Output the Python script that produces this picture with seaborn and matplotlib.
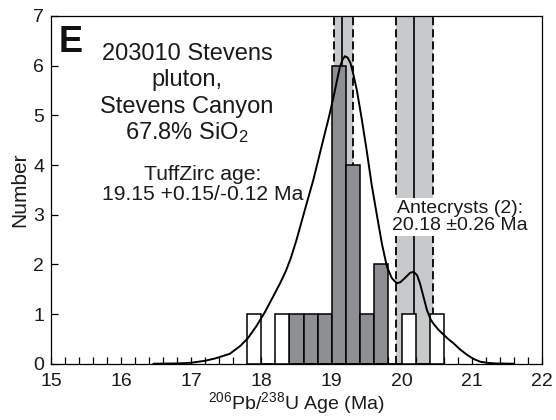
import numpy as np
import matplotlib
matplotlib.use("Agg")
import matplotlib.pyplot as plt
from matplotlib.ticker import MultipleLocator
import seaborn as sns

# Histogram of single-zircon ages, 0.2 Ma bins (bin centres and counts)
main_ages = [18.5, 18.7, 18.9, 19.1, 19.3, 19.5, 19.7]
main_counts = [1, 1, 1, 6, 4, 1, 2]
open_ages = [17.9, 18.3, 20.1, 20.5]
open_counts = [1, 1, 1, 1]
bin_edges = [17.8, 18.0, 18.2, 18.4, 18.6, 18.8, 19.0, 19.2, 19.4, 19.6, 19.8, 20.0, 20.2, 20.4, 20.6]

# Probability density curve (in counts)
pdf_age = [16.46, 16.80, 17.00, 17.20, 17.35, 17.55, 17.70, 17.81, 17.93,
           18.05, 18.17, 18.27, 18.35, 18.42, 18.50, 18.62, 18.74, 18.81, 18.88,
           18.96, 19.03, 19.08, 19.12, 19.16, 19.19, 19.23, 19.27, 19.31, 19.36,
           19.43, 19.50, 19.57, 19.65, 19.72, 19.79, 19.86, 19.93, 19.98, 20.05,
           20.12, 20.17, 20.22, 20.26, 20.31, 20.36, 20.41, 20.45, 20.52, 20.60,
           20.67, 20.74, 20.83, 20.93, 21.02, 21.12, 21.24, 21.36, 21.59]
pdf_num = [0.00, 0.005, 0.02, 0.06, 0.11, 0.20, 0.36, 0.52, 0.76,
           1.04, 1.36, 1.63, 1.87, 2.13, 2.49, 3.10, 3.70, 4.10, 4.50,
           4.95, 5.38, 5.72, 5.98, 6.13, 6.19, 6.16, 6.05, 5.83, 5.51,
           4.93, 4.30, 3.62, 2.96, 2.40, 1.95, 1.72, 1.62, 1.64, 1.73,
           1.83, 1.85, 1.78, 1.62, 1.35, 1.08, 0.90, 0.81, 0.69, 0.58,
           0.49, 0.41, 0.29, 0.18, 0.10, 0.04, 0.015, 0.005, 0.00]

# Weighted mean ages with uncertainties
tuff_age, tuff_plus, tuff_minus = 19.15, 0.15, 0.12
ante_age, ante_err, ante_n = 20.18, 0.26, 2

sns.set_theme(style="ticks")
plt.rcParams["font.family"] = ["Liberation Sans", "DejaVu Sans"]
plt.rcParams["mathtext.fontset"] = "custom"
plt.rcParams["mathtext.rm"] = "Liberation Sans"
plt.rcParams["mathtext.it"] = "Liberation Sans:italic"
plt.rcParams["mathtext.bf"] = "Liberation Sans:bold"

fig = plt.figure(figsize=(5.56, 4.20), dpi=100)
ax = fig.add_axes([0.0917, 0.134, 0.8831, 0.828])

band_color = "#c8c9ca"
bar_gray = "#8e8f93"
dash = (0, (4.5, 2.2))

# Age bands with dashed error limits and solid mean
for mean, lo, hi in [(tuff_age, tuff_age - tuff_minus, tuff_age + tuff_plus),
                     (ante_age, ante_age - ante_err, ante_age + ante_err)]:
    ax.axvspan(lo, hi, color=band_color, lw=0, zorder=0.5)
    ax.axvline(lo, color="black", lw=1.3, ls=dash, zorder=1)
    ax.axvline(hi, color="black", lw=1.3, ls=dash, zorder=1)
    ax.axvline(mean, color="black", lw=1.2, zorder=1)

sns.histplot(x=main_ages, weights=main_counts, bins=bin_edges, ax=ax,
             color=bar_gray, edgecolor="black", linewidth=1.1, alpha=1, zorder=2)
sns.histplot(x=open_ages, weights=open_counts, bins=bin_edges, ax=ax,
             color="white", edgecolor="black", linewidth=1.1, alpha=1, zorder=2)

sns.lineplot(x=pdf_age, y=pdf_num, ax=ax, color="black", lw=1.4,
             estimator=None, sort=False, zorder=4)

ax.set_xlim(15, 22)
ax.set_ylim(0, 7)
ax.xaxis.set_major_locator(MultipleLocator(1))
ax.xaxis.set_minor_locator(MultipleLocator(0.2))
ax.yaxis.set_major_locator(MultipleLocator(1))
ax.tick_params(axis="x", which="both", direction="in", length=5, width=0.9,
               labelsize=14, pad=7, color="black", labelcolor="#1a1a1a")
ax.tick_params(axis="y", which="major", direction="in", length=5, width=0.9,
               labelsize=14, pad=5, color="black", labelcolor="#1a1a1a")
for s in ax.spines.values():
    s.set_visible(True)
    s.set_linewidth(0.9)
    s.set_color("black")

ax.set_xlabel("$^{206}$Pb/$^{238}$U Age (Ma)", fontsize=14, labelpad=0, color="#1a1a1a")
ax.set_ylabel("Number", fontsize=15, labelpad=3, color="#1a1a1a")

# Annotations
ax.text(15.11, 6.281, "E", fontsize=26, fontweight="bold", ha="left",
        va="baseline", color="#111111", zorder=5)
title_lines = ["203010 Stevens", "pluton,", "Stevens Canyon", "67.8% SiO$_2$"]
for i, line in enumerate(title_lines):
    ax.text(16.94, 6.114 - i * 0.531, line, fontsize=17, ha="center",
            va="baseline", color="#1a1a1a", zorder=5)
for i, line in enumerate(["TuffZirc age:",
                          f"{tuff_age:.2f} +{tuff_plus:.2f}/-{tuff_minus:.2f} Ma"]):
    ax.text(17.168, 3.698 - i * 0.393, line, fontsize=15.2, ha="center",
            va="baseline", color="#1a1a1a", zorder=5)
ax.text(20.835, 2.692, f"Antecrysts ({ante_n}):\n{ante_age:.2f} \u00b1{ante_err:.2f} Ma",
        fontsize=14, ha="center", va="baseline", linespacing=1.0,
        color="#1a1a1a", zorder=3,
        bbox=dict(facecolor="white", edgecolor="none", pad=1.5))

fig.savefig("out.png", dpi=100)
